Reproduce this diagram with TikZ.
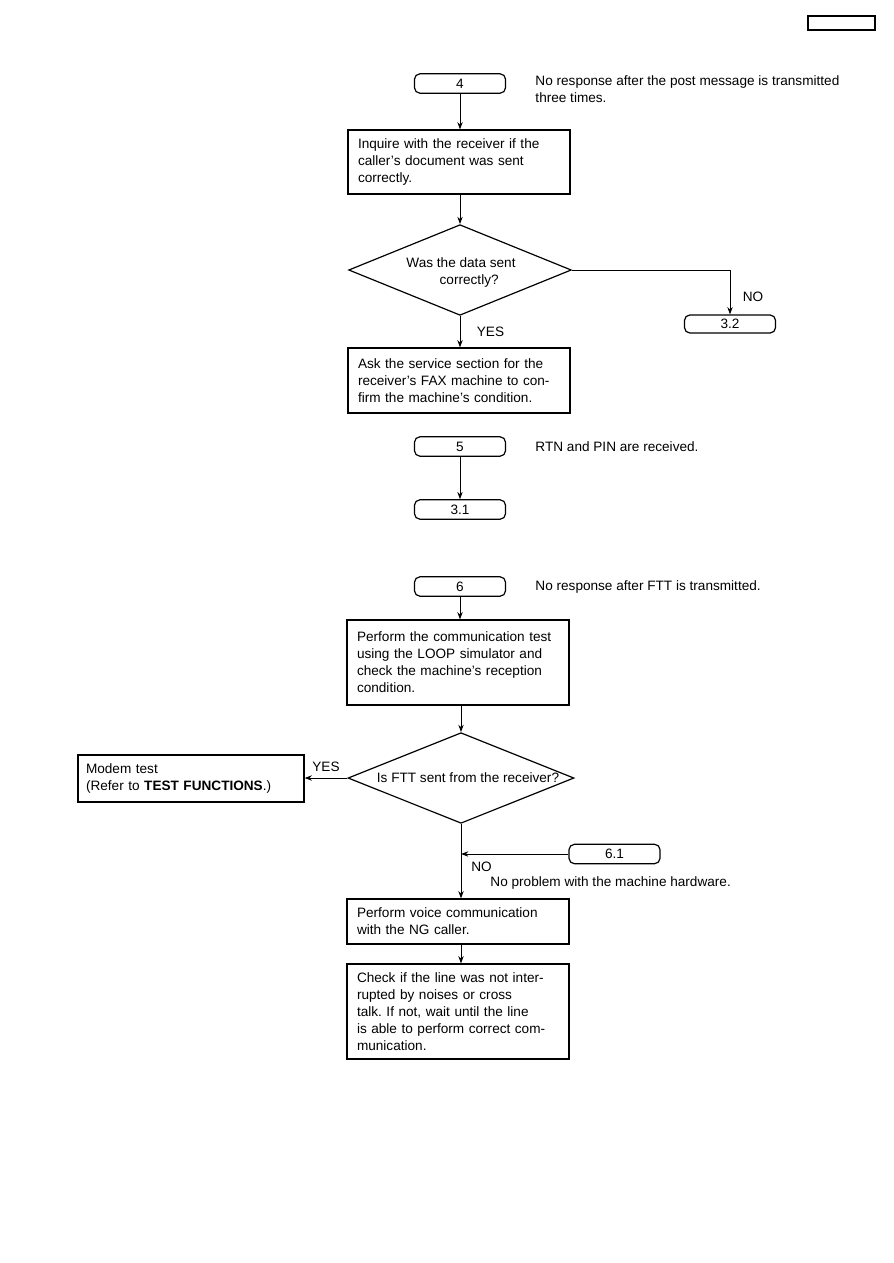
\documentclass[tikz,border=0pt]{standalone}
\usepackage{fontspec}
\setmainfont{Liberation Sans}
\usetikzlibrary{arrows,arrows.meta,shapes.geometric,positioning}
\frenchspacing

\begin{document}
\begin{tikzpicture}[x=0.75pt, y=-0.75pt, font=\fontsize{10.2}{12.75}\selectfont, >={Stealth[length=5.5pt,width=4pt]}, line width=0.7pt]
    \tikzset{term/.style={draw, line width=0.9pt, rounded corners=4pt, minimum width=68.25pt, minimum height=14.5pt, inner sep=0pt},
      proc/.style={draw, line width=0.9pt, minimum width=166.5pt, text width=151.5pt, align=left, inner xsep=7.5pt, inner ysep=0pt},
      dec/.style={draw, line width=0.9pt, diamond, minimum width=167pt, minimum height=68pt, inner sep=0pt},
      note/.style={right, align=left, inner sep=0pt}}
    \useasboundingbox (0,0) rectangle (893,1263);
    \node[draw, line width=1.1pt, minimum width=50.25pt, minimum height=10.5pt, inner sep=0pt] (frame) at (841.5,23) {};
    % section 4
    \node[term] (t4) at (460,83.5) {4};
    \node[note] (n4) at (535,89) {No response after the post message is transmitted\\three times.};
    \node[proc, minimum height=48pt] (b1) at (459,162) {Inquire with the receiver if the\\caller's document was sent\\correctly.};
    \node[dec] (d1) at (460,270) {};
    \node[align=center] (d1t) at (461,272) {Was the data sent\\\hspace*{1.2em}correctly?};
    \node[term, minimum height=13.5pt] (t32) at (730,324) {3.2};
    \node[proc, minimum height=48.75pt] (b2) at (459,380.5) {Ask the service section for the\\receiver's FAX machine to con-\\firm the machine's condition.};
    \draw[->] (t4) -- (t4 |- b1.north);
    \draw[->] (b1.south -| d1.north) -- (d1.north);
    \draw[->] (d1.east) -| node[pos=0.8, right=6pt] {NO} (t32.north);
    \draw[->] (d1.south) -- node[right=9pt] {YES} (d1.south |- b2.north);
    % section 5
    \node[term] (t5) at (460,446.5) {5};
    \node[note] (n5) at (535,446.5) {RTN and PIN are received.};
    \node[term] (t31) at (460,509.5) {3.1};
    \draw[->] (t5) -- (t31);
    % section 6
    \node[term] (t6) at (460,586.5) {6};
    \node[note] (n6) at (535,586.5) {No response after FTT is transmitted.};
    \node[proc, minimum height=63.75pt] (b3) at (458,662.5) {Perform the communication test\\using the LOOP simulator and\\check the machine's reception\\condition.};
    \node[dec, minimum width=169.5pt] (d2) at (461,778) {};
    \node (d2t) at (468,778) {Is FTT sent from the receiver?};
    \node[proc, minimum width=169.5pt, text width=157.5pt, inner xsep=6pt, minimum height=35.25pt] (modem) at (191,778.5) {Modem test\\(Refer to \textbf{TEST FUNCTIONS}.)};
    \node[term] (t61) at (614.5,854) {6.1};
    \node[proc, minimum height=33.75pt] (b4) at (458,921.5) {Perform voice communication\\with the NG caller.};
    \node[proc, minimum height=71.25pt] (b5) at (458,1011.5) {Check if the line was not inter-\\rupted by noises or cross\\talk. If not, wait until the line\\is able to perform correct com-\\munication.};
    \node[note] (n61) at (490,883) {No problem with the machine hardware.};
    \draw[->] (t6) -- (t6 |- b3.north);
    \draw[->] (b3.south -| d2.north) -- (d2.north);
    \draw[->] (d2.west) -- node[above=1pt] {YES} (d2.west -| modem.east);
    \draw[->] (d2.south) -- node[pos=0.58, right=4pt] {NO} (d2.south |- b4.north);
    \draw[->] (t61.west) -- (t61.west -| d2.south);
    \draw[->] (d2.south |- b4.south) -- (d2.south |- b5.north);
  \end{tikzpicture}
\end{document}
